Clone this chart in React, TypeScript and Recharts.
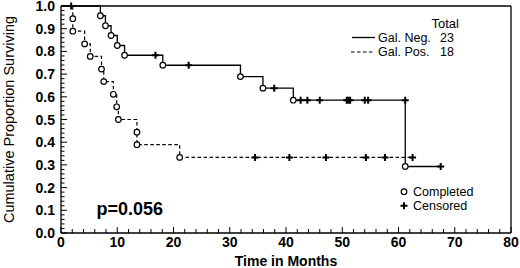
import React from 'react';
import { ComposedChart, Line, Scatter, XAxis, YAxis, ReferenceLine } from 'recharts';

// Gal. Neg. (solid) step curve
const negStepTimes = [0, 7.0, 7.9, 8.9, 10.0, 11.3, 18.1, 31.9, 35.9, 41.3, 61.2, 67.5];
const negStepSurv = [1, 0.957, 0.913, 0.87, 0.826, 0.783, 0.739, 0.689, 0.638, 0.585, 0.293, 0.293];
// Gal. Neg. completed (events)
const negEventTimes = [7.0, 7.9, 8.9, 10.0, 11.3, 18.1, 31.9, 35.9, 41.3, 61.2];
const negEventSurv = [0.957, 0.913, 0.87, 0.826, 0.783, 0.739, 0.689, 0.638, 0.585, 0.293];
// Gal. Neg. censored
const negCensorTimes = [1.8, 16.8, 22.7, 37.9, 42.6, 43.8, 46.0, 50.8, 51.1, 51.4, 54.0, 54.6, 61.2, 67.5];
const negCensorSurv = [1, 0.783, 0.739, 0.638, 0.585, 0.585, 0.585, 0.585, 0.585, 0.585, 0.585, 0.585, 0.585, 0.293];

// Gal. Pos. (dashed) step curve
const posStepTimes = [0, 2.1, 2.1, 4.2, 5.2, 7.2, 7.6, 9.3, 9.9, 10.2, 13.5, 13.5, 21.1, 62.5];
const posStepSurv = [1, 0.944, 0.889, 0.833, 0.778, 0.722, 0.667, 0.611, 0.556, 0.5, 0.444, 0.389, 0.333, 0.333];
const posEventTimes = [2.1, 2.1, 4.2, 5.2, 7.2, 7.6, 9.3, 9.9, 10.2, 13.5, 13.5, 21.1];
const posEventSurv = [0.944, 0.889, 0.833, 0.778, 0.722, 0.667, 0.611, 0.556, 0.5, 0.444, 0.389, 0.333];
const posCensorTimes = [34.5, 40.6, 47.1, 54.2, 57.6, 62.5];
const posCensorSurv = [0.333, 0.333, 0.333, 0.333, 0.333, 0.333];

const majorXTicks = [0, 10, 20, 30, 40, 50, 60, 70, 80];
const majorYTicks = [0, 0.1, 0.2, 0.3, 0.4, 0.5, 0.6, 0.7, 0.8, 0.9, 1.0];
const groupNames = ['Gal. Neg.', 'Gal. Pos.'];
const groupTotals = [23, 18];
const pValueText = 'p=0.056';

const xTicks: number[] = [];
for (let i = 0; i <= 40; i++) xTicks.push(i * 2);
const yTicks: number[] = [];
for (let i = 0; i <= 50; i++) yTicks.push(Math.round(i * 2) / 100);

const zip = (ts: number[], ss: number[]) => ts.map((t, i) => ({ t, s: ss[i] }));
const negLine = zip(negStepTimes, negStepSurv);
const posLine = zip(posStepTimes, posStepSurv);
const negEvents = zip(negEventTimes, negEventSurv);
const posEvents = zip(posEventTimes, posEventSurv);
const negCensor = zip(negCensorTimes, negCensorSurv);
const posCensor = zip(posCensorTimes, posCensorSurv);

const FONT = '"Liberation Sans", Arial, Helvetica, sans-serif';

const isMajor = (v: number, list: number[]) => list.some((m) => Math.abs(m - v) < 1e-6);

const YTick = (props: any) => {
  const { x, y, payload } = props;
  const v = payload.value;
  const major = isMajor(v, majorYTicks);
  return (
    <g>
      <line x1={x} x2={x + (major ? 6 : 3.5)} y1={y} y2={y} stroke="#000" strokeWidth={1} />
      {major && (
        <text x={x - 6} y={y} dy="0.36em" textAnchor="end" fontSize={14} fontWeight="bold" fontFamily={FONT} fill="#000">
          {v.toFixed(1)}
        </text>
      )}
    </g>
  );
};

const XTick = (props: any) => {
  const { x, y, payload } = props;
  const v = payload.value;
  const major = isMajor(v, majorXTicks);
  return (
    <g>
      <line x1={x} x2={x} y1={y} y2={y - (major ? 6 : 4)} stroke="#000" strokeWidth={1} />
      {major && (
        <text x={x} y={y + 14} textAnchor="middle" fontSize={14} fontWeight="bold" fontFamily={FONT} fill="#000">
          {v}
        </text>
      )}
    </g>
  );
};

const CircleMark = (props: any) => {
  const { cx, cy } = props;
  return <circle cx={cx} cy={cy} r={2.8} fill="#fff" stroke="#000" strokeWidth={1.2} />;
};

const CrossMark = (props: any) => {
  const { cx, cy } = props;
  return (
    <path d={`M${cx - 3.5},${cy}H${cx + 3.5}M${cx},${cy - 3.5}V${cy + 3.5}`} stroke="#000" strokeWidth={2} fill="none" />
  );
};

export default function App() {
  return (
    <div style={{ position: 'absolute', left: 0, top: 0, width: 520, height: 268, background: '#fff' }}>
      <ComposedChart width={520} height={268} margin={{ top: 6, right: 9, left: 0, bottom: 5 }}>
        <XAxis
          dataKey="t"
          type="number"
          domain={[0, 80]}
          ticks={xTicks}
          interval={0}
          tickSize={0}
          tickMargin={0}
          tickLine={false}
          tick={<XTick />}
          axisLine={{ stroke: '#000', strokeWidth: 1.3 }}
          height={30}
          label={{
            value: 'Time in Months',
            position: 'insideBottom',
            offset: -3,
            style: { fontFamily: FONT, fontSize: 14, fontWeight: 'bold', fill: '#000' },
          }}
        />
        <YAxis
          type="number"
          domain={[0, 1]}
          ticks={yTicks}
          interval={0}
          tickSize={0}
          tickMargin={0}
          tickLine={false}
          tick={<YTick />}
          axisLine={{ stroke: '#000', strokeWidth: 1.3 }}
          width={61}
          label={{
            value: 'Cumulative Proportion Surviving',
            angle: -90,
            position: 'insideLeft',
            offset: 9,
            style: { fontFamily: FONT, fontSize: 14.5, fill: '#000', textAnchor: 'middle' },
          }}
        />
        <ReferenceLine y={1} stroke="#000" strokeWidth={1.3} />
        <ReferenceLine x={80} stroke="#000" strokeWidth={1.3} />
        <Line
          data={posLine}
          dataKey="s"
          type="stepAfter"
          stroke="#000"
          strokeWidth={1.2}
          strokeDasharray="3.5 2.5"
          dot={false}
          activeDot={false}
          isAnimationActive={false}
        />
        <Line
          data={negLine}
          dataKey="s"
          type="stepAfter"
          stroke="#000"
          strokeWidth={1.3}
          dot={false}
          activeDot={false}
          isAnimationActive={false}
        />
        <Scatter data={posEvents} dataKey="s" shape={<CircleMark />} isAnimationActive={false} />
        <Scatter data={negEvents} dataKey="s" shape={<CircleMark />} isAnimationActive={false} />
        <Scatter data={posCensor} dataKey="s" shape={<CrossMark />} isAnimationActive={false} />
        <Scatter data={negCensor} dataKey="s" shape={<CrossMark />} isAnimationActive={false} />
      </ComposedChart>
      <svg width={520} height={268} style={{ position: 'absolute', left: 0, top: 0, pointerEvents: 'none' }}>
        <g fontFamily={FONT} fill="#000">
          <text x={431.5} y={27.5} fontSize={13}>Total</text>
          <line x1={352} x2={375} y1={37.5} y2={37.5} stroke="#000" strokeWidth={1.3} />
          <text x={378} y={41.5} fontSize={12.5}>{groupNames[0]}</text>
          <text x={440} y={41.5} fontSize={12.5}>{groupTotals[0]}</text>
          <line x1={351} x2={375} y1={52} y2={52} stroke="#000" strokeWidth={1.2} strokeDasharray="3.5 2.5" />
          <text x={378} y={56} fontSize={12.5}>{groupNames[1]}</text>
          <text x={440} y={56} fontSize={12.5}>{groupTotals[1]}</text>
          <circle cx={404} cy={191.7} r={2.8} fill="#fff" stroke="#000" strokeWidth={1.2} />
          <text x={413} y={196} fontSize={12.5}>Completed</text>
          <path d="M400.5,205.7H407.5M404,202.2V209.2" stroke="#000" strokeWidth={2} fill="none" />
          <text x={413} y={210} fontSize={12.5}>Censored</text>
          <text x={96.5} y={214.5} fontSize={18} fontWeight="bold">{pValueText}</text>
        </g>
      </svg>
    </div>
  );
}
